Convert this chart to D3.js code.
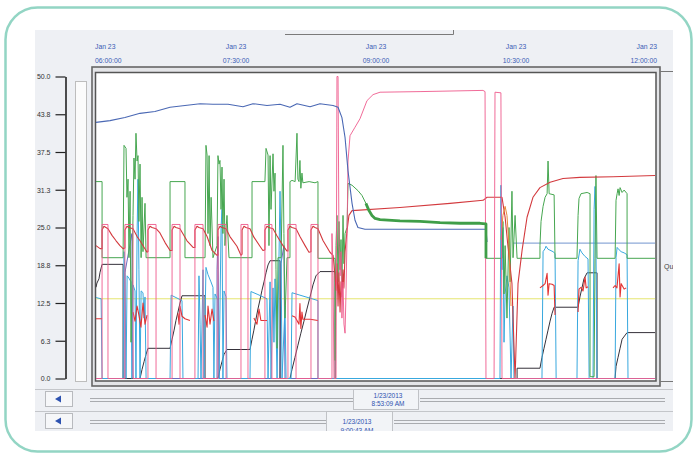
<!DOCTYPE html>
<html><head><meta charset="utf-8">
<script src="https://cdn.jsdelivr.net/npm/d3@7"></script>
<style>body{margin:0;background:#fff}svg{display:block}</style>
</head><body>
<svg id="c" width="696" height="454"></svg>
<script>
// ---- data (minutes after 06:00, value) ----
const dateLabel = "Jan 23";
const xTickMinutes = [0, 90, 180, 270, 360];
const xTickLabels = ["06:00:00", "07:30:00", "09:00:00", "10:30:00", "12:00:00"];
const yTicks = [0, 6.25, 12.5, 18.75, 25, 31.25, 37.5, 43.75, 50];
const yTickLabels = ["0.0", "6.3", "12.5", "18.8", "25.0", "31.3", "37.5", "43.8", "50.0"];
const cursor1 = ["1/23/2013", "8:53:09 AM"];
const cursor2 = ["1/23/2013", "9:00:43 AM"];

const yellow = [[0,13.2],[359.4,13.2]];
const lightBlue = [[268.1,22.4],[359.4,22.4]];
const navy = [[0,42.4],[9.0,42.7],[18.6,43.2],[28.3,43.9],[37.9,44.2],[47.6,44.9],[57.2,45.2],[66.9,45.5],[75.2,45.4],[84.9,45.4],[94.5,45.0],[100.9,45.5],[109.9,45.2],[118.3,45.4],[124.7,44.9],[129.2,45.5],[137.6,45.0],[144.0,45.5],[152.4,45.2],[155.6,44.9],[158.1,43.2],[160.1,39.9],[162.0,34.4],[164.6,29.0],[166.5,26.2],[168.4,25.0],[172.9,24.7],[250.7,24.7],[251.4,22.6]];
const green = [[0,32.6],[3.9,32.6],[3.9,20.0],[17.4,20.0],[18.0,38.6],[19.3,38.1],[19.9,30.0],[20.6,33.0],[21.2,20.0],[21.9,31.0],[22.5,6.0],[23.8,27.0],[24.4,36.5],[25.1,33.0],[25.7,40.6],[26.4,36.0],[27.0,36.9],[27.6,26.0],[28.3,35.5],[29.0,20.0],[29.6,30.0],[30.2,21.0],[31.5,29.0],[32.2,20.0],[47.6,20.0],[47.6,32.6],[57.2,32.6],[57.2,20.0],[70.1,20.0],[70.7,38.6],[71.4,37.0],[72.0,24.0],[72.7,36.9],[73.3,22.0],[74.0,30.0],[75.2,20.0],[77.8,22.0],[78.4,36.9],[79.1,35.5],[79.7,36.1],[80.4,28.0],[81.0,35.0],[81.6,24.0],[82.3,33.0],[82.9,22.0],[84.2,27.0],[85.5,20.0],[100.3,20.0],[100.3,32.6],[108.6,32.6],[109.3,38.1],[110.6,37.0],[111.2,22.0],[111.9,36.9],[112.5,28.0],[113.8,37.2],[114.4,31.0],[115.1,34.0],[115.7,18.0],[116.4,5.0],[117.0,20.0],[119.0,20.0],[120.2,38.6],[120.8,24.0],[121.5,10.0],[122.8,20.0],[124.7,20.0],[124.7,32.6],[126.0,32.8],[128.0,32.6],[129.2,40.6],[129.8,33.0],[130.5,32.6],[131.1,36.1],[131.7,31.5],[132.4,34.0],[133.0,32.4],[137.0,32.6],[140.8,32.4],[142.7,32.6],[142.7,19.9],[153.7,19.9],[153.7,3.0],[154.3,22.0],[154.9,27.0],[155.6,16.0],[156.2,26.0],[156.9,18.0],[157.5,23.0],[158.1,15.0],[158.8,27.0],[159.4,19.0],[160.1,24.0],[161.4,25.0],[162.0,32.3],[164.6,32.0],[168.4,31.1],[171.0,30.3],[173.5,29.0],[175.5,27.8],[177.4,27.0],[179.4,26.5],[182.6,26.3],[195.4,26.1],[208.3,26.0],[221.2,25.8],[234.0,25.7],[246.9,25.7],[250.7,25.6],[250.7,19.9],[261.0,19.9],[261.6,26.0],[262.3,14.0],[263.0,22.0],[264.2,10.0],[265.5,25.0],[266.2,16.0],[267.4,31.0],[268.1,20.0],[269.4,27.0],[270.7,19.9],[285.4,19.9],[285.4,22.0],[286.1,26.0],[287.4,28.5],[288.7,30.0],[290.0,30.6],[290.6,36.0],[291.3,30.6],[294.5,30.4],[295.1,19.9],[309.2,19.9],[309.9,27.0],[310.5,29.8],[311.8,30.6],[315.7,30.8],[317.6,30.6],[317.6,0.3],[320.2,0.3],[320.8,19.9],[321.4,33.6],[322.1,19.9],[333.7,19.9],[334.3,29.5],[335.0,30.6],[335.6,31.4],[336.3,30.3],[336.9,31.6],[338.2,30.8],[339.5,31.2],[341.4,30.6],[341.4,19.9],[359.4,19.9]];
const red = [[0,22.0],[2.6,21.5],[3.9,21.5],[3.9,24.6],[5.1,25.2],[6.4,25.0],[7.7,24.8],[10.3,23.7],[12.9,22.8],[15.4,22.0],[17.4,21.5],[18.6,21.6],[18.6,24.6],[19.9,25.2],[21.2,25.0],[23.8,24.8],[26.4,23.5],[28.3,22.8],[32.8,20.9],[33.4,21.0],[33.4,24.6],[34.7,25.2],[36.0,25.0],[38.6,24.8],[41.1,24.1],[44.4,22.5],[47.6,21.2],[48.9,21.2],[48.9,24.6],[50.2,25.2],[51.4,25.0],[54.0,24.8],[58.5,22.8],[62.4,21.7],[63.6,21.7],[63.6,24.6],[64.9,25.2],[66.2,25.0],[68.8,24.8],[71.4,23.5],[74.6,21.2],[77.8,20.4],[78.4,20.4],[78.4,24.6],[79.7,25.2],[81.0,25.0],[83.6,24.8],[86.1,23.5],[90.6,21.9],[93.2,20.4],[93.9,20.6],[93.9,24.6],[95.1,25.2],[96.4,25.0],[99.0,24.8],[101.5,23.4],[105.4,21.9],[107.3,21.2],[108.6,21.3],[108.6,24.6],[109.9,25.2],[111.2,25.0],[113.8,24.8],[116.4,23.6],[120.2,22.0],[122.8,21.1],[123.4,21.1],[123.4,24.6],[124.7,25.2],[126.0,25.0],[128.6,24.8],[131.1,23.5],[134.4,22.0],[136.9,20.9],[138.2,21.0],[138.2,24.6],[139.5,25.2],[140.8,25.0],[142.7,24.8],[146.0,22.8],[150.4,20.9],[152.4,20.4],[153.7,17.0],[154.3,14.6],[154.9,19.0],[155.6,12.0],[156.2,17.5],[156.9,11.0],[157.5,16.0],[158.1,13.5],[158.8,18.0],[159.4,15.0],[160.1,21.0],[161.4,24.5],[162.6,27.0],[164.6,27.8],[195.4,28.3],[227.6,29.0],[248.8,29.5],[251.4,30.0],[261.0,30.0],[263.0,26.7],[264.9,21.7],[267.4,15.7],[268.1,10.1],[269.4,0],[271.3,15.7],[273.9,21.2],[277.1,26.7],[280.9,30.0],[285.4,31.6],[291.9,32.5],[300.2,33.1],[311.1,33.3],[332.4,33.4],[359.4,33.6]];
const red2 = [[0,9.9],[3.9,9.9],null,[23.8,11.0],[25.1,9.5],[26.4,12.0],[27.6,10.5],[28.9,8.5],[30.2,12.5],[31.5,9.0],[32.8,10.5],null,[52.7,10.8],[53.4,9.0],[54.0,12.0],[55.3,10.3],[57.2,9.9],[60.4,9.6],null,[70.1,10.5],[71.4,8.5],[72.0,12.0],[73.3,9.0],[74.6,11.5],[75.8,9.5],null,[101.5,10.0],[103.5,9.0],[104.8,11.5],[106.0,9.6],[109.9,9.6],null,[126.0,10.4],[127.9,10.2],[130.5,9.0],[131.1,12.4],[131.7,8.3],[132.4,11.0],[133.0,9.8],[137.6,9.8],[142.7,9.6],null,[285.4,15.0],[287.4,15.4],[288.7,15.7],[290.0,17.4],[290.6,13.8],[291.3,15.7],[293.2,15.6],[294.5,15.4],[295.1,10.5],null,[309.9,11.0],[310.5,14.8],[311.8,15.1],[313.1,14.5],[314.4,16.8],[315.1,15.0],[316.3,15.2],null,[332.4,15.0],[333.7,15.4],[334.9,15.0],[336.3,19.0],[336.9,13.5],[337.6,15.7],[339.5,14.8],[340.8,15.0]];
const orange = [[260.3,23.0],[261.6,27.0],[263.0,28.5],[264.2,27.0],[265.5,22.0],[266.2,16.0],[266.8,12.0]];
const pink = [[0,0],[3.9,0],[3.9,25.5],[7.7,25.5],[7.7,0],[18.6,0],[18.6,25.5],[23.8,25.5],[23.8,0],[33.4,0],[33.4,25.5],[38.6,25.5],[38.6,0],[48.9,0],[48.9,25.5],[54.0,25.5],[54.0,0],[63.6,0],[63.6,25.5],[68.8,25.5],[68.8,0],[78.4,0],[78.4,25.5],[83.6,25.5],[83.6,0],[93.2,0],[93.2,25.5],[97.7,25.5],[97.7,0],[108.6,0],[108.6,25.5],[113.1,25.5],[113.1,0],[123.4,0],[123.4,25.5],[128.6,25.5],[128.6,0],[138.2,0],[138.2,25.5],[142.7,25.5],[142.7,0],[151.7,0],[151.7,24.0],[152.4,17.0],[153.0,0],[154.3,0],[154.9,50],[155.6,50],[156.2,22],[156.9,17],[157.5,21],[158.1,10],[158.8,16],[159.4,9],[160.1,7.5],[160.7,14],[161.4,24],[162.0,36],[163.3,40.2],[166.5,41.6],[169.7,43.0],[174.2,46.0],[178.1,47.0],[182.6,47.4],[208.3,47.5],[248.8,47.7],[250.1,47.5],[250.7,0],[255.9,0],[256.5,47.4],[260.3,47.3],[261.0,0],[359.4,0]];
const cyan = [[0,13.4],[3.3,13.2],[3.9,0],[17.4,0],[18.0,21.0],[18.6,17.5],[19.3,0],[20.0,17.0],[21.2,16.6],[22.5,16.0],[23.1,0],[23.8,15.5],[25.1,14.5],[25.7,0],[26.4,24.0],[27.0,33.0],[27.6,18.0],[28.3,0],[29.0,14.5],[30.2,14.2],[30.9,10.0],[31.5,13.5],[32.2,0],[47.6,0],[48.3,13.8],[51.4,13.4],[55.3,12.9],[55.9,0],[65.6,0],[66.2,17.0],[66.9,9.0],[67.5,0],[68.8,18.0],[69.4,0],[70.7,18.4],[72.0,17.2],[73.9,16.0],[75.2,15.1],[75.8,0],[76.5,14.0],[78.4,13.0],[79.1,0],[80.4,25.0],[81.0,28.0],[81.6,0],[82.3,14.5],[83.6,13.5],[84.2,0],[99.0,0],[99.6,14.4],[104.1,13.9],[109.9,13.2],[110.6,0],[111.9,16.0],[112.5,0],[113.8,15.0],[114.4,6.0],[115.1,16.5],[116.4,0],[118.3,31.0],[119.0,20.0],[119.6,0],[121.5,12.0],[122.2,0],[125.4,0],[126.0,14.2],[131.1,13.8],[137.6,13.3],[142.7,12.9],[142.7,0],[259.7,0],[260.3,32.0],[261.0,18.0],[261.6,25.0],[262.3,6.0],[263.0,14.0],[264.2,17.0],[265.5,15.0],[266.8,0],[268.1,12.0],[268.7,0],[286.7,0],[287.4,21.0],[288.7,21.5],[289.3,21.9],[290.6,21.4],[293.8,21.0],[295.1,20.7],[295.8,0],[309.2,0],[309.9,19.5],[311.1,21.4],[312.4,20.8],[314.4,20.2],[316.3,19.8],[317.0,0],[319.5,0],[320.2,28.0],[320.8,31.8],[321.4,22.0],[322.1,0],[333.7,0],[334.3,20.0],[335.0,21.7],[336.3,21.3],[337.6,21.0],[339.5,20.8],[341.4,20.5],[342.0,0],[359.4,0]];
const black = [[0,15.1],[0.6,15.8],[1.9,16.5],[2.6,17.6],[3.9,18.9],[17.4,18.9],[17.4,0],[28.3,0],[29.6,1.5],[30.9,2.8],[32.2,4.0],[33.4,5.0],[47.6,5.0],[48.9,6.5],[50.2,8.0],[51.4,9.6],[52.7,11.0],[54.0,12.5],[55.3,13.7],[70.1,13.7],[70.1,0],[78.4,0],[79.7,1.5],[81.0,2.8],[82.3,4.0],[84.2,4.8],[99.0,4.8],[100.3,6.5],[101.5,8.0],[102.8,9.8],[104.1,11.5],[105.4,13.0],[106.7,14.6],[108.0,16.0],[109.3,17.5],[110.6,18.8],[111.9,19.5],[118.3,19.5],[118.3,0],[124.7,0],[126.0,1.5],[127.9,3.5],[129.8,5.5],[131.7,7.5],[133.7,9.5],[135.6,11.5],[137.6,13.5],[139.5,15.5],[141.4,17.0],[144.0,17.7],[153.7,17.7],[153.7,0],[270.7,0],[270.7,1.7],[285.4,1.7],[286.7,3.5],[288.0,5.0],[289.3,6.5],[290.6,8.0],[291.9,9.5],[293.2,10.8],[294.5,11.8],[309.9,11.8],[311.1,13.5],[312.4,15.0],[313.7,16.5],[315.7,17.5],[322.1,17.5],[322.1,0],[333.7,0],[334.3,2.0],[335.6,3.5],[336.9,5.0],[338.2,6.5],[341.4,7.6],[359.4,7.6]];
const violet = [[0,0],[18.6,0],[18.6,17.5],[23.1,24.0],[23.8,0],[77.8,0],[77.8,18.0],[78.4,23.5],[79.1,0],[118.3,0],[118.9,19.0],[120.8,22.0],[121.5,0],[359.4,0]];

// ---- drawing ----
const svg = d3.select("#c");
const x = d3.scaleLinear().domain([0, 360]).range([96, 656]);
const y = d3.scaleLinear().domain([0, 50]).range([378.5, 76.5]);

svg.append("rect").attr("x",5.5).attr("y",7.5).attr("width",686).attr("height",444)
  .attr("rx",32).attr("fill","#fff").attr("stroke","#93d5c4").attr("stroke-width",2.5);

const defs = svg.append("defs");
defs.append("clipPath").attr("id","panelClip").append("rect")
  .attr("x",35).attr("y",30).attr("width",638).attr("height",401);
defs.append("clipPath").attr("id","plotClip").append("rect")
  .attr("x",95.5).attr("y",72.5).attr("width",560.5).attr("height",308);

const panel = svg.append("g").attr("clip-path","url(#panelClip)");
panel.append("rect").attr("x",35).attr("y",30).attr("width",638).attr("height",401).attr("fill","#eef0f4");

panel.append("path").attr("d","M285,34.5H453.5V30").attr("fill","none").attr("stroke","#7a7a7a").attr("stroke-width",1);

const fontF = "'Liberation Sans', Arial, sans-serif";
xTickMinutes.forEach((m,i) => {
  const anchor = i === 0 ? "start" : (i === xTickMinutes.length-1 ? "end" : "middle");
  const px = i === 0 ? x(m) - 1 : (i === xTickMinutes.length-1 ? x(m) + 1 : x(m));
  const g = panel.append("g").attr("fill","#3b5cb4").attr("font-family",fontF).attr("font-size",6.8).attr("text-anchor",anchor);
  g.append("text").attr("x",px).attr("y",49).text(dateLabel);
  g.append("text").attr("x",px).attr("y",63).text(xTickLabels[i]);
});

const yAxis = d3.axisLeft(y).tickValues(yTicks).tickFormat((d,i) => yTickLabels[i])
  .tickSize(10).tickSizeOuter(0).tickPadding(5);
const ax = panel.append("g").attr("transform","translate(65.5,0)").call(yAxis);
ax.select(".domain").attr("stroke","#222").attr("stroke-width",1.6);
ax.selectAll(".tick line").attr("stroke","#222").attr("stroke-width",1.2);
ax.selectAll(".tick text").attr("fill","#333").attr("font-family",fontF).attr("font-size",7);

panel.append("rect").attr("x",75.5).attr("y",81.5).attr("width",11).attr("height",300)
  .attr("fill","#fbfbfb").attr("stroke","#bdbdbd");

panel.append("rect").attr("x",92).attr("y",67).attr("width",568).attr("height",319)
  .attr("fill","#e4e5e8").attr("stroke","#666").attr("stroke-width",1.6);
panel.append("rect").attr("x",95.5).attr("y",72.5).attr("width",560.5).attr("height",308.5)
  .attr("fill","#fff").attr("stroke","#555").attr("stroke-width",1.5);
panel.append("path").attr("d","M660,71.5H673M660,381.5H673").attr("stroke","#777").attr("stroke-width",1.2);
panel.append("text").attr("x",664).attr("y",269).attr("font-family",fontF).attr("font-size",7)
  .attr("fill","#444").text("Qu");

const line = d3.line().defined(d => d !== null).x(d => x(d[0])).y(d => y(d[1]));
const plot = panel.append("g").attr("clip-path","url(#plotClip)").attr("fill","none")
  .attr("stroke-linejoin","round");
const seriesList = [
  {data: yellow, color: "#e6e670", w: 1.0},
  {data: lightBlue, color: "#8eaad8", w: 1.2},
  {data: violet, color: "#5a58b8", w: 0.9},
  {data: black, color: "#35313a", w: 1.0},
  {data: cyan, color: "#38a8de", w: 1.0},
  {data: green, color: "#46a650", w: 1.0},
  {data: red2, color: "#e23434", w: 1.1},
  {data: red, color: "#d33a3e", w: 1.1},
  {data: orange, color: "#e48a3a", w: 1.0},
  {data: pink, color: "#ee5a8c", w: 0.9},
  {data: navy, color: "#4a68b4", w: 1.1}
];
seriesList.forEach(s => {
  plot.append("path").attr("d", line(s.data)).attr("stroke", s.color).attr("stroke-width", s.w);
});
const noisy = d3.line().defined(d => d[0] >= 173 && d[0] <= 250.7).x(d => x(d[0])).y(d => y(d[1]));
plot.append("path").attr("d", noisy(green)).attr("stroke","#3f9e48").attr("stroke-width",2.8);

function row(y0, boxX, boxW, lbl, txtX, dy) {
  panel.append("path").attr("d",`M35,${y0+0.5}H673`).attr("stroke","#c4c6ca");
  panel.append("rect").attr("x",45.5).attr("y",y0+2.5).attr("width",27).attr("height",15)
    .attr("fill","#f6f7f9").attr("stroke","#b8babe");
  panel.append("path").attr("d",`M55,${y0+10}L61,${y0+6.5}V${y0+13.5}Z`).attr("fill","#2d52b0");
  const t1 = `M90,${y0+9.5}H${boxX}M90,${y0+12.5}H${boxX}M${boxX+boxW+2},${y0+9.5}H665M${boxX+boxW+2},${y0+12.5}H665`;
  panel.append("path").attr("d",t1).attr("stroke","#a9abaf").attr("stroke-width",1);
  panel.append("rect").attr("x",boxX+0.5).attr("y",y0+0.5).attr("width",boxW).attr("height",20)
    .attr("fill","#f2f4f7").attr("stroke","#c0c2c6");
  const g = panel.append("g").attr("fill","#2d52b0").attr("font-family",fontF).attr("font-size",6.5).attr("text-anchor","middle");
  g.append("text").attr("x",txtX).attr("y",y0+8.5+dy).text(lbl[0]);
  g.append("text").attr("x",txtX).attr("y",y0+17+dy).text(lbl[1]);
}
row(389, 353, 65, cursor1, 388, 0);
row(411, 326, 66, cursor2, 357, 4.5);
</script>
</body></html>
